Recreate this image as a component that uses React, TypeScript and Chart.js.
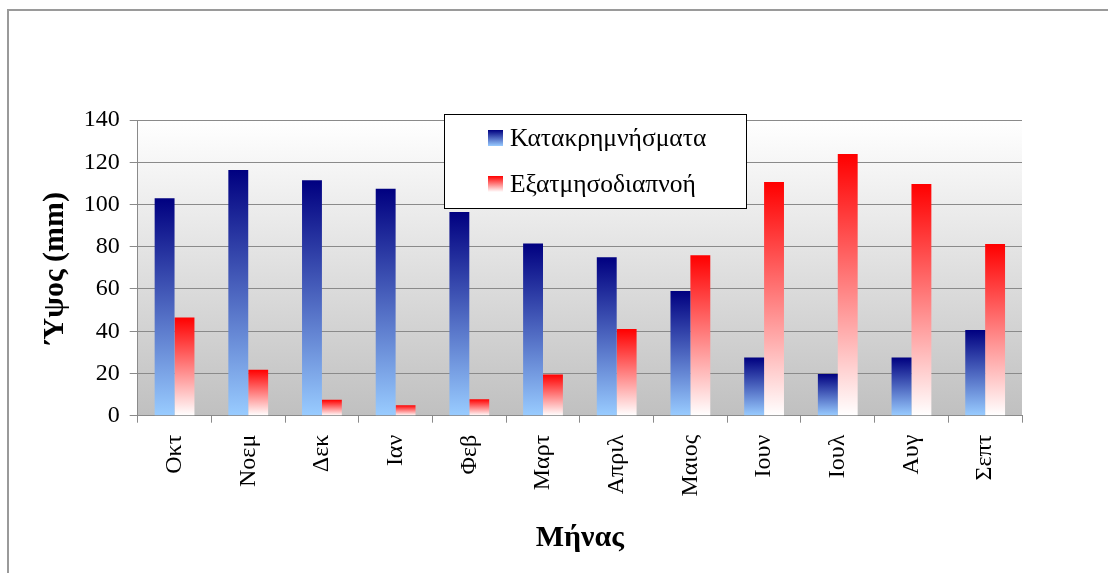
import React, { useEffect, useRef } from "react";
import { Chart, registerables } from "chart.js";

Chart.register(...registerables);

const months = ["Οκτ", "Νοεμ", "Δεκ", "Ιαν", "Φεβ", "Μαρτ", "Απριλ", "Μαιος", "Ιουν", "Ιουλ", "Αυγ", "Σεπτ"];
const precipitation = [103, 116.3, 111.5, 107.5, 96.5, 81.5, 75, 59, 27.5, 19.8, 27.5, 40.6];
const evapotranspiration = [46.5, 21.8, 7.5, 5, 7.8, 19.5, 41, 76, 110.6, 123.9, 109.7, 81.3];
const precipLabel = "Κατακρημνήσματα";
const evapLabel = "Εξατμησοδιαπνοή";
const yTitle = "Ύψος (mm)";
const xTitle = "Μήνας";
const yMin = 0;
const yMax = 140;
const yStep = 20;

const FONT = "'Liberation Serif', 'Times New Roman', serif";
const BLUE_TOP = "#000080";
const BLUE_BOTTOM = "#99CCFF";
const RED_TOP = "#FF0000";
const RED_BOTTOM = "#FFFFFF";

function barGradient(top: string, bottom: string) {
  return (c: any) => {
    const chart = c.chart;
    const { ctx, chartArea, scales } = chart;
    if (!chartArea || c.type !== "data" || !scales.y) return bottom;
    const v = typeof c.raw === "number" ? c.raw : 0;
    const yTop = scales.y.getPixelForValue(v);
    const yBase = scales.y.getPixelForValue(0);
    if (!isFinite(yTop) || !isFinite(yBase) || yTop === yBase) return bottom;
    const g = ctx.createLinearGradient(0, yTop, 0, yBase);
    g.addColorStop(0, top);
    g.addColorStop(1, bottom);
    return g;
  };
}

const framePlugin = {
  id: "frameAndBg",
  beforeDraw(chart: any) {
    const { ctx, chartArea, width, height } = chart;
    ctx.save();
    ctx.fillStyle = "#ffffff";
    ctx.fillRect(0, 0, width, height);
    ctx.fillStyle = "#9a9a9a";
    ctx.fillRect(7, 9, width - 7, 2);
    ctx.fillRect(7, 9, 2, height - 9);
    if (chartArea) {
      const g = ctx.createLinearGradient(0, chartArea.top, 0, chartArea.bottom);
      g.addColorStop(0, "#ffffff");
      g.addColorStop(1, "#c0c0c0");
      ctx.fillStyle = g;
      ctx.fillRect(chartArea.left, chartArea.top, chartArea.right - chartArea.left, chartArea.bottom - chartArea.top);
    }
    ctx.restore();
  },
};

const legendPlugin = {
  id: "customLegend",
  afterDraw(chart: any) {
    const { ctx } = chart;
    const bx = 444, by = 114, bw = 302, bh = 94;
    ctx.save();
    ctx.fillStyle = "#ffffff";
    ctx.fillRect(bx, by, bw, bh);
    ctx.strokeStyle = "#000000";
    ctx.lineWidth = 1;
    ctx.strokeRect(bx + 0.5, by + 0.5, bw, bh);
    const items = [
      { label: chart.data.datasets[0].label, top: BLUE_TOP, bottom: BLUE_BOTTOM, y: 138 },
      { label: chart.data.datasets[1].label, top: RED_TOP, bottom: RED_BOTTOM, y: 184 },
    ];
    ctx.font = `25.5px ${FONT}`;
    ctx.textBaseline = "middle";
    ctx.textAlign = "left";
    for (const it of items) {
      const sy = it.y - 8;
      const g = ctx.createLinearGradient(0, sy, 0, sy + 16);
      g.addColorStop(0, it.top);
      g.addColorStop(1, it.bottom);
      ctx.fillStyle = g;
      ctx.fillRect(488, sy, 15, 16);
      ctx.fillStyle = "#000000";
      ctx.fillText(it.label, 510, it.y + 1);
    }
    ctx.restore();
  },
};

export default function App() {
  const canvasRef = useRef<HTMLCanvasElement | null>(null);

  useEffect(() => {
    if (!canvasRef.current) return;
    const chart = new Chart(canvasRef.current, {
      type: "bar",
      data: {
        labels: months,
        datasets: [
          {
            label: precipLabel,
            data: precipitation,
            backgroundColor: barGradient(BLUE_TOP, BLUE_BOTTOM),
            borderWidth: 0,
            barPercentage: 1,
            categoryPercentage: 0.54,
          },
          {
            label: evapLabel,
            data: evapotranspiration,
            backgroundColor: barGradient(RED_TOP, RED_BOTTOM),
            borderWidth: 0,
            barPercentage: 1,
            categoryPercentage: 0.54,
          },
        ],
      },
      options: {
        responsive: false,
        animation: false,
        events: [],
        layout: { padding: { left: 0, right: 86, top: 120, bottom: 0 } },
        plugins: {
          legend: { display: false },
          tooltip: { enabled: false },
          title: { display: false },
        },
        scales: {
          x: {
            offset: true,
            grid: {
              offset: true,
              drawOnChartArea: false,
              drawTicks: true,
              tickLength: 7,
              color: "#8a8a8a",
            },
            border: { display: true, color: "#8a8a8a", width: 1 },
            ticks: {
              color: "#000000",
              font: { family: FONT, size: 24 },
              minRotation: 90,
              maxRotation: 90,
              padding: 12,
              autoSkip: false,
            },
            title: {
              display: true,
              text: xTitle,
              color: "#000000",
              font: { family: FONT, size: 30, weight: "bold" },
              padding: { top: 0, bottom: 17 },
            },
            afterFit: (s: any) => {
              s.height = 157.3;
            },
          },
          y: {
            min: yMin,
            max: yMax,
            grid: {
              color: "#8a8a8a",
              tickLength: 8,
              drawTicks: true,
            },
            border: { display: true, color: "#8a8a8a", width: 1 },
            ticks: {
              stepSize: yStep,
              color: "#000000",
              font: { family: FONT, size: 24 },
              padding: 10,
            },
            title: {
              display: true,
              text: yTitle,
              color: "#000000",
              font: { family: FONT, size: 30, weight: "bold" },
              padding: { top: 37, bottom: 0 },
            },
            afterFit: (s: any) => {
              s.width = 137.7;
            },
          },
        },
      },
      plugins: [framePlugin, legendPlugin],
    });
    return () => chart.destroy();
  }, []);

  return (
    <div style={{ position: "absolute", left: 0, top: 0, width: 1108, height: 573, overflow: "hidden" }}>
      <canvas ref={canvasRef} width={1108} height={573} style={{ display: "block" }} />
    </div>
  );
}
